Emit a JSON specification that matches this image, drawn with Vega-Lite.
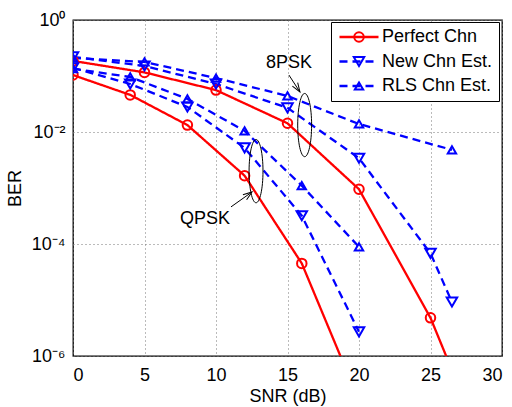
{
  "$schema": "https://vega.github.io/schema/vega-lite/v6.json",
  "width": 429,
  "height": 336,
  "autosize": "none",
  "padding": {"left": 73, "top": 20, "right": 10, "bottom": 51},
  "background": "white",
  "config": {
    "view": {"stroke": "black", "strokeWidth": 1.3},
    "font": "Liberation Sans",
    "axis": {
      "labelFont": "Liberation Sans",
      "titleFont": "Liberation Sans",
      "labelFontSize": 18,
      "titleFontSize": 18,
      "titleFontWeight": "normal",
      "labelColor": "black",
      "titleColor": "black",
      "domain": false,
      "gridColor": "#777777",
      "gridDash": [1, 3],
      "gridWidth": 1,
      "tickColor": "black",
      "tickSize": 5
    },
    "legend": {
      "labelFont": "Liberation Sans",
      "labelFontSize": 18,
      "labelColor": "black"
    }
  },
  "datasets": {
    "curves": [
      {"snr": 0, "ber": 0.104, "method": "Perfect Chn", "mod": "QPSK"},
      {"snr": 4, "ber": 0.046, "method": "Perfect Chn", "mod": "QPSK"},
      {"snr": 8, "ber": 0.0133, "method": "Perfect Chn", "mod": "QPSK"},
      {"snr": 12, "ber": 0.00166, "method": "Perfect Chn", "mod": "QPSK"},
      {"snr": 16, "ber": 0.000045, "method": "Perfect Chn", "mod": "QPSK"},
      {"snr": 20, "ber": 0.00000016, "method": "Perfect Chn", "mod": "QPSK"},
      {"snr": 0, "ber": 0.186, "method": "Perfect Chn", "mod": "8PSK"},
      {"snr": 5, "ber": 0.116, "method": "Perfect Chn", "mod": "8PSK"},
      {"snr": 10, "ber": 0.056, "method": "Perfect Chn", "mod": "8PSK"},
      {"snr": 15, "ber": 0.0143, "method": "Perfect Chn", "mod": "8PSK"},
      {"snr": 20, "ber": 0.00095, "method": "Perfect Chn", "mod": "8PSK"},
      {"snr": 25, "ber": 0.0000048, "method": "Perfect Chn", "mod": "8PSK"},
      {"snr": 30, "ber": 0.0000000037, "method": "Perfect Chn", "mod": "8PSK"},
      {"snr": 0, "ber": 0.14, "method": "New Chn Est.", "mod": "QPSK"},
      {"snr": 4, "ber": 0.072, "method": "New Chn Est.", "mod": "QPSK"},
      {"snr": 8, "ber": 0.028, "method": "New Chn Est.", "mod": "QPSK"},
      {"snr": 12, "ber": 0.0052, "method": "New Chn Est.", "mod": "QPSK"},
      {"snr": 16, "ber": 0.00032, "method": "New Chn Est.", "mod": "QPSK"},
      {"snr": 20, "ber": 0.0000027, "method": "New Chn Est.", "mod": "QPSK"},
      {"snr": 0, "ber": 0.135, "method": "RLS Chn Est.", "mod": "QPSK"},
      {"snr": 4, "ber": 0.096, "method": "RLS Chn Est.", "mod": "QPSK"},
      {"snr": 8, "ber": 0.039, "method": "RLS Chn Est.", "mod": "QPSK"},
      {"snr": 12, "ber": 0.0105, "method": "RLS Chn Est.", "mod": "QPSK"},
      {"snr": 16, "ber": 0.0011, "method": "RLS Chn Est.", "mod": "QPSK"},
      {"snr": 20, "ber": 0.000089, "method": "RLS Chn Est.", "mod": "QPSK"},
      {"snr": 0, "ber": 0.22, "method": "New Chn Est.", "mod": "8PSK"},
      {"snr": 5, "ber": 0.151, "method": "New Chn Est.", "mod": "8PSK"},
      {"snr": 10, "ber": 0.072, "method": "New Chn Est.", "mod": "8PSK"},
      {"snr": 15, "ber": 0.027, "method": "New Chn Est.", "mod": "8PSK"},
      {"snr": 20, "ber": 0.0034, "method": "New Chn Est.", "mod": "8PSK"},
      {"snr": 25, "ber": 0.000068, "method": "New Chn Est.", "mod": "8PSK"},
      {"snr": 26.5, "ber": 0.0000092, "method": "New Chn Est.", "mod": "8PSK"},
      {"snr": 0, "ber": 0.21, "method": "RLS Chn Est.", "mod": "8PSK"},
      {"snr": 5, "ber": 0.178, "method": "RLS Chn Est.", "mod": "8PSK"},
      {"snr": 10, "ber": 0.092, "method": "RLS Chn Est.", "mod": "8PSK"},
      {"snr": 15, "ber": 0.044, "method": "RLS Chn Est.", "mod": "8PSK"},
      {"snr": 20, "ber": 0.0139, "method": "RLS Chn Est.", "mod": "8PSK"},
      {"snr": 26.5, "ber": 0.0048, "method": "RLS Chn Est.", "mod": "8PSK"}
    ],
    "notes": [
      {"label": "8PSK", "ex": 16.2, "ey": 0.0133, "tx": 15.1, "ty": 0.171, "ax": 15.1, "ay": 0.104, "ax2": 15.87, "ay2": 0.0518},
      {"label": "QPSK", "ex": 12.8, "ey": 0.002, "tx": 9.23, "ty": 0.00028, "ax": 11.05, "ay": 0.00046, "ax2": 12.52, "ay2": 0.00085}
    ]
  },
  "layer": [
    {
      "data": {"name": "curves"},
      "mark": {"type": "line", "strokeWidth": 2.3, "clip": true},
      "encoding": {
        "x": {"field": "snr", "type": "quantitative",
          "scale": {"domain": [0, 30], "nice": false, "zero": false},
          "axis": {"title": "SNR (dB)", "values": [0, 5, 10, 15, 20, 25, 30], "grid": true, "labelPadding": 10, "titlePadding": 3, "ticks": false}},
        "y": {"field": "ber", "type": "quantitative",
          "scale": {"type": "log", "domain": [0.000001, 1], "nice": false},
          "axis": {"title": "BER", "values": [0.000001, 0.0001, 0.01, 1], "grid": true, "ticks": false, "labelPadding": 8, "titlePadding": 7,
            "labelExpr": "datum.value >= 0.5 ? '10⁰' : datum.value >= 0.005 ? '10⁻²' : datum.value >= 0.00005 ? '10⁻⁴' : '10⁻⁶'"}},
        "color": {"field": "method", "type": "nominal",
          "scale": {"domain": ["Perfect Chn", "New Chn Est.", "RLS Chn Est."], "range": ["#ff0000", "#0000ff", "#0000ff"]},
          "legend": {
            "title": null,
            "orient": "none",
            "legendX": 258,
            "legendY": 2,
            "fillColor": "white",
            "strokeColor": "black",
            "padding": 6,
            "rowPadding": 6.5,
            "symbolType": "M-2.6,0L2.6,0",
            "symbolSize": 225,
            "symbolStrokeWidth": 2.3,
            "symbolOffset": 13,
            "labelOffset": 14
          }},
        "strokeDash": {"field": "method", "type": "nominal",
          "scale": {"domain": ["Perfect Chn", "New Chn Est.", "RLS Chn Est."], "range": [[1, 0], [8, 5], [8, 5]]}},
        "detail": {"field": "mod"}
      }
    },
    {
      "data": {"name": "curves"},
      "mark": {"type": "point", "filled": false, "strokeWidth": 2, "clip": true, "opacity": 1},
      "encoding": {
        "x": {"field": "snr", "type": "quantitative"},
        "y": {"field": "ber", "type": "quantitative"},
        "stroke": {"field": "method", "type": "nominal",
          "scale": {"domain": ["New Chn Est.", "Perfect Chn", "RLS Chn Est."], "range": ["#0000ff", "#ff0000", "#0000ff"]},
          "legend": {
            "title": null,
            "orient": "none",
            "legendX": 258,
            "legendY": 2,
            "padding": 6,
            "rowPadding": 6.5,
            "symbolStrokeWidth": 2,
            "symbolOffset": 13,
            "labelOffset": 29,
            "labelExpr": "''",
            "values": ["Perfect Chn", "New Chn Est.", "RLS Chn Est."]
          }},
        "shape": {"field": "method", "type": "nominal",
          "scale": {"domain": ["New Chn Est.", "Perfect Chn", "RLS Chn Est."], "range": ["triangle-down", "circle", "triangle-up"]}},
        "size": {"field": "method", "type": "nominal",
          "scale": {"domain": ["New Chn Est.", "Perfect Chn", "RLS Chn Est."], "range": [110, 70, 110]}}
      }
    },
    {
      "data": {"name": "notes"},
      "mark": {"type": "point", "filled": false, "stroke": "black", "strokeWidth": 1, "size": 4000, "opacity": 1,
        "shape": "M0,-1C0.1215,-1,0.22,-0.5523,0.22,0C0.22,0.5523,0.1215,1,0,1C-0.1215,1,-0.22,0.5523,-0.22,0C-0.22,-0.5523,-0.1215,-1,0,-1Z"},
      "encoding": {
        "x": {"field": "ex", "type": "quantitative"},
        "y": {"field": "ey", "type": "quantitative"}
      }
    },
    {
      "data": {"name": "notes"},
      "mark": {"type": "rule", "stroke": "black", "strokeWidth": 1},
      "encoding": {
        "x": {"field": "ax", "type": "quantitative"},
        "y": {"field": "ay", "type": "quantitative"},
        "x2": {"field": "ax2"},
        "y2": {"field": "ay2"}
      }
    },
    {
      "data": {"name": "notes"},
      "transform": [{"filter": "datum.label === '8PSK'"}],
      "mark": {"type": "point", "filled": false, "stroke": "black", "strokeWidth": 1, "size": 324, "angle": 327, "opacity": 1,
        "shape": "M-0.35,-1L0,0L0.35,-1"},
      "encoding": {
        "x": {"field": "ax2", "type": "quantitative"},
        "y": {"field": "ay2", "type": "quantitative"}
      }
    },
    {
      "data": {"name": "notes"},
      "transform": [{"filter": "datum.label === 'QPSK'"}],
      "mark": {"type": "point", "filled": false, "stroke": "black", "strokeWidth": 1, "size": 324, "angle": 234, "opacity": 1,
        "shape": "M-0.35,-1L0,0L0.35,-1"},
      "encoding": {
        "x": {"field": "ax2", "type": "quantitative"},
        "y": {"field": "ay2", "type": "quantitative"}
      }
    },
    {
      "data": {"name": "notes"},
      "mark": {"type": "text", "font": "Liberation Sans", "fontSize": 18, "color": "black", "align": "center", "baseline": "middle"},
      "encoding": {
        "x": {"field": "tx", "type": "quantitative"},
        "y": {"field": "ty", "type": "quantitative"},
        "text": {"field": "label"}
      }
    }
  ]
}
